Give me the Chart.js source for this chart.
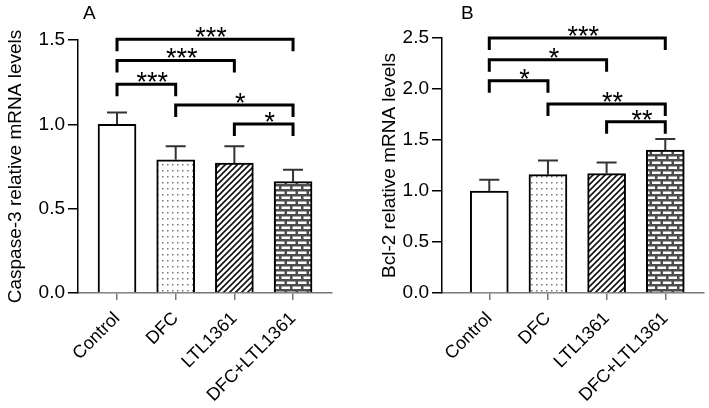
<!DOCTYPE html>
<html lang="en">
<head>
  <meta charset="UTF-8">
  <title>Caspase-3 / Bcl-2 mRNA</title>
  <script src="https://cdn.jsdelivr.net/npm/chart.js"></script>
  <style>
    body { margin: 0; background: #fff; }
    .wrap { display: flex; width: 709px; height: 408px; }
    canvas { display: block; }
  </style>
</head>
<body>
<div class="wrap">
  <canvas id="chartA" width="354" height="408"></canvas>
  <canvas id="chartB" width="355" height="408"></canvas>
</div>

<script>
  // data
  const groups = ['Control', 'DFC', 'LTL1361', 'DFC+LTL1361'];

  const casp3Mean = [1.00, 0.79, 0.77, 0.66];
  const casp3Sd   = [0.07, 0.08, 0.10, 0.07];
  const casp3Ticks = [0, 0.5, 1.0, 1.5];
  // [from, to, bracket height (y units), stars]
  const casp3Sig = [
    [0, 3, 1.504, '***'],
    [0, 2, 1.379, '***'],
    [0, 1, 1.237, '***'],
    [1, 3, 1.114, '*'],
    [2, 3, 1.002, '*']
  ];

  const bcl2Mean = [1.00, 1.16, 1.17, 1.40];
  const bcl2Sd   = [0.11, 0.14, 0.11, 0.11];
  const bcl2Ticks = [0, 0.5, 1.0, 1.5, 2.0, 2.5];
  const bcl2Sig = [
    [0, 3, 2.499, '***'],
    [0, 2, 2.286, '*'],
    [0, 1, 2.080, '*'],
    [1, 3, 1.854, '**'],
    [2, 3, 1.680, '**']
  ];

  const FONT = "'Liberation Sans', Arial, sans-serif";

  function tile(w, h, draw) {
    const c = document.createElement('canvas');
    c.width = w; c.height = h;
    const g = c.getContext('2d');
    draw(g);
    return c;
  }

  function makePatterns(ctx) {
    const dots = tile(5, 6, g => {
      g.fillStyle = '#fff'; g.fillRect(0, 0, 5, 6);
      g.fillStyle = '#777'; g.fillRect(2, 2, 1.5, 1.5);
    });
    const hatch = tile(6, 6, g => {
      g.fillStyle = '#fff'; g.fillRect(0, 0, 6, 6);
      g.strokeStyle = '#111'; g.lineWidth = 1.6;
      g.beginPath();
      g.moveTo(-1, 7); g.lineTo(7, -1);
      g.moveTo(-4, 4); g.lineTo(4, -4);
      g.moveTo(2, 10); g.lineTo(10, 2);
      g.stroke();
    });
    const brick = tile(11, 10, g => {
      g.fillStyle = '#4d4d4d'; g.fillRect(0, 0, 11, 10);
      g.fillStyle = '#fff';
      g.fillRect(1, 1.5, 8.5, 2.5);
      g.fillRect(-4.5, 6.5, 8.5, 2.5);
      g.fillRect(6.5, 6.5, 8.5, 2.5);
    });
    return [
      '#fff',
      ctx.createPattern(dots, 'repeat'),
      ctx.createPattern(hatch, 'repeat'),
      ctx.createPattern(brick, 'repeat')
    ];
  }

  // error bars + significance brackets, all placed through the chart scales
  const extras = {
    id: 'extras',
    afterDatasetsDraw(chart, args, opts) {
      const { ctx, scales: { x, y } } = chart;
      ctx.save();
      // error bars (upper only)
      ctx.strokeStyle = '#333';
      ctx.lineWidth = 2;
      opts.mean.forEach((m, i) => {
        const px = x.getPixelForValue(i);
        const y0 = y.getPixelForValue(m);
        const y1 = y.getPixelForValue(m + opts.sd[i]);
        ctx.beginPath();
        ctx.moveTo(px, y0); ctx.lineTo(px, y1);
        ctx.moveTo(px - 10, y1); ctx.lineTo(px + 10, y1);
        ctx.stroke();
      });
      ctx.restore();
    },
    afterDraw(chart, args, opts) {
      const { ctx, scales: { x, y } } = chart;
      ctx.save();
      ctx.strokeStyle = '#000';
      ctx.fillStyle = '#000';
      ctx.lineWidth = 3;
      ctx.font = '27px ' + FONT;
      ctx.textAlign = 'center';
      ctx.textBaseline = 'alphabetic';
      const m = ctx.measureText('*');
      const mid = (m.actualBoundingBoxAscent - m.actualBoundingBoxDescent) / 2;
      opts.sig.forEach(([a, b, h, s]) => {
        const xa = x.getPixelForValue(a);
        const xb = x.getPixelForValue(b);
        const yt = y.getPixelForValue(h);
        ctx.beginPath();
        ctx.moveTo(xa, yt + 12);
        ctx.lineTo(xa, yt);
        ctx.lineTo(xb, yt);
        ctx.lineTo(xb, yt + 12);
        ctx.stroke();
        ctx.fillText(s, (xa + xb) / 2 + 6, yt - 7 + mid);
      });
      // panel letter
      ctx.font = '19px ' + FONT;
      ctx.textAlign = 'left';
      ctx.fillText(opts.letter, opts.letterX, 19);
      ctx.restore();
    }
  };

  function makeChart(id, o) {
    const ctx = document.getElementById(id).getContext('2d');
    const fills = makePatterns(ctx);
    return new Chart(ctx, {
      type: 'bar',
      data: {
        datasets: [{
          data: o.mean.map((v, i) => ({ x: i, y: v })),
          backgroundColor: fills,
          borderColor: '#000',
          borderWidth: 2,
          barThickness: 38
        }]
      },
      options: {
        responsive: false,
        animation: false,
        devicePixelRatio: 1,
        layout: { padding: o.padding, autoPadding: false },
        plugins: {
          legend: { display: false },
          tooltip: { enabled: false },
          extras: { mean: o.mean, sd: o.sd, sig: o.sig, letter: o.letter, letterX: o.letterX }
        },
        scales: {
          x: {
            type: 'linear',
            offset: false,
            min: o.xMin,
            max: o.xMax,
            afterBuildTicks: s => { s.ticks = groups.map((g, i) => ({ value: i })); },
            afterFit: s => {
              s.height = 115;
              // labels hang off to the left; don't let them shrink the plot
              s.paddingLeft = 0;
              s.paddingRight = 0;
            },
            ticks: {
              callback: v => groups[v],
              autoSkip: false,
              minRotation: 45,
              maxRotation: 45,
              color: '#000',
              padding: 8,
              font: { family: FONT, size: 18 }
            },
            grid: { offset: false, drawOnChartArea: false, tickLength: 7, color: '#777', lineWidth: 1.5 },
            border: { color: '#777', width: 1.5 }
          },
          y: {
            min: 0,
            max: o.yMax,
            afterBuildTicks: s => { s.ticks = o.ticks.map(v => ({ value: v })); },
            afterFit: s => { s.width = o.yWidth; },
            ticks: {
              callback: v => v.toFixed(1),
              color: '#000',
              padding: 3,
              font: { family: FONT, size: 19 }
            },
            grid: { drawOnChartArea: false, tickLength: 10, color: '#000', lineWidth: 1.5 },
            border: { color: '#000', width: 1.5 },
            title: {
              display: true,
              text: o.title,
              color: '#000',
              padding: { top: 4, bottom: 0 },
              font: { family: FONT, size: 19 }
            }
          }
        }
      },
      plugins: [extras]
    });
  }

  makeChart('chartA', {
    mean: casp3Mean, sd: casp3Sd, sig: casp3Sig, ticks: casp3Ticks,
    yMax: 1.5, title: 'Caspase-3 relative mRNA levels',
    xMin: -0.665, xMax: 3.664, yWidth: 78,
    padding: { top: 40, left: 0, right: 22, bottom: 0 },
    letter: 'A', letterX: 83
  });

  makeChart('chartB', {
    mean: bcl2Mean, sd: bcl2Sd, sig: bcl2Sig, ticks: bcl2Ticks,
    yMax: 2.5, title: 'Bcl-2 relative mRNA levels',
    xMin: -0.806, xMax: 3.66, yWidth: 68,
    padding: { top: 38, left: 20, right: 5, bottom: 0 },
    letter: 'B', letterX: 107
  });
</script>
</body>
</html>
